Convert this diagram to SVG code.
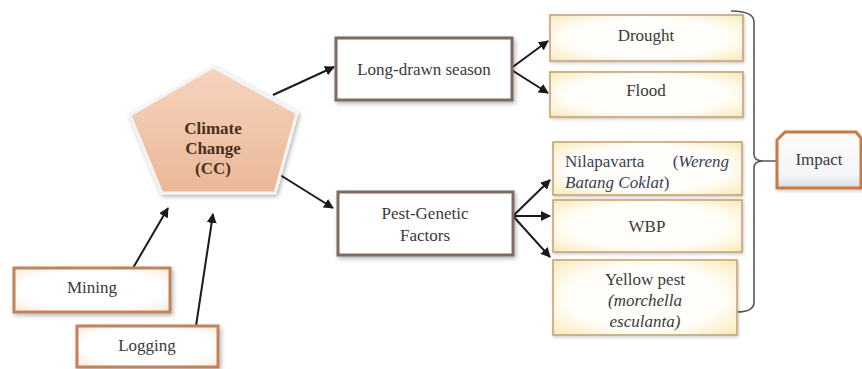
<svg xmlns="http://www.w3.org/2000/svg" width="862" height="369" viewBox="0 0 862 369" font-family="'Liberation Serif', 'DejaVu Serif', serif">
<style>
  text { font-family: 'Liberation Serif', 'DejaVu Serif', serif; font-size: 17px; fill: #3a3a3a; }
  .c { text-anchor: middle; }
  .it { font-style: italic; }
  .conn { stroke: #1a1a1a; stroke-width: 2; fill: none; }
  .boxA { fill: #ffffff; stroke: #7e6b5f; stroke-width: 3; filter: url(#sh); }
  .boxB { fill: url(#cream); stroke: #c7a377; stroke-width: 1.6; filter: url(#sh2); }
  .boxC { fill: url(#pinkish); stroke: #c0835c; stroke-width: 3; filter: url(#sh); }
</style>
<defs>
  <marker id="ah" viewBox="0 0 10 10" refX="9" refY="5" markerWidth="5" markerHeight="5" orient="auto" markerUnits="strokeWidth">
    <path d="M0,0 L10,5 L0,10 z" fill="#1a1a1a"/>
  </marker>
  <linearGradient id="peach" x1="0" y1="0" x2="0" y2="1">
    <stop offset="0" stop-color="#f6d4be"/>
    <stop offset="1" stop-color="#ebb797"/>
  </linearGradient>
  <radialGradient id="cream" cx="0.5" cy="0.5" r="0.75">
    <stop offset="0.55" stop-color="#fffefa"/>
    <stop offset="1" stop-color="#f9e7b0"/>
  </radialGradient>
  <radialGradient id="pinkish" cx="0.5" cy="0.5" r="0.75">
    <stop offset="0.6" stop-color="#ffffff"/>
    <stop offset="1" stop-color="#fbe4d6"/>
  </radialGradient>
  <linearGradient id="imp" x1="0" y1="0" x2="0" y2="1">
    <stop offset="0" stop-color="#fffaf5"/>
    <stop offset="0.75" stop-color="#f4f6fa"/>
    <stop offset="1" stop-color="#d9dde3"/>
  </linearGradient>
  <filter id="sh" x="-10%" y="-20%" width="125%" height="150%">
    <feDropShadow dx="1.5" dy="2" stdDeviation="2" flood-color="#000" flood-opacity="0.3"/>
  </filter>
  <filter id="sh2" x="-10%" y="-20%" width="125%" height="150%">
    <feDropShadow dx="1" dy="1.5" stdDeviation="1.5" flood-color="#000" flood-opacity="0.2"/>
  </filter>
</defs>

<g id="connectors">
  <line class="conn" x1="133" y1="268" x2="168" y2="208" marker-end="url(#ah)"/>
  <line class="conn" x1="196" y1="326" x2="213" y2="214" marker-end="url(#ah)"/>
  <line class="conn" x1="273" y1="95" x2="334" y2="67" marker-end="url(#ah)"/>
  <line class="conn" x1="277" y1="173" x2="333" y2="208" marker-end="url(#ah)"/>
  <line class="conn" x1="510" y1="69" x2="548" y2="41" marker-end="url(#ah)"/>
  <line class="conn" x1="510" y1="69" x2="548" y2="93" marker-end="url(#ah)"/>
  <line class="conn" x1="513" y1="216" x2="550" y2="180" marker-end="url(#ah)"/>
  <line class="conn" x1="513" y1="216" x2="550" y2="216" marker-end="url(#ah)"/>
  <line class="conn" x1="513" y1="216" x2="550" y2="257" marker-end="url(#ah)"/>
  <path d="M731,11 Q754,11 754,22 L754,154 Q754,161 763,161 L777,161 M763,161 Q754,161 754,168 L754,302 Q754,312 737,312" fill="none" stroke="#555" stroke-width="1.6"/>
</g>

<g id="cc">
  <polygon points="213,67 297,113 275,193 162,193 130,115" fill="url(#peach)" stroke="#f4f4f4" stroke-width="3" filter="url(#sh)"/>
  <text class="c" x="213" y="134" font-weight="bold" style="fill:#4a3020">Climate</text>
  <text class="c" x="213" y="154" font-weight="bold" style="fill:#4a3020">Change</text>
  <text class="c" x="213" y="174" font-weight="bold" style="fill:#4a3020">(CC)</text>
</g>

<g id="mining">
  <rect class="boxC" x="14" y="268" width="156" height="44"/>
  <text class="c" x="92" y="293">Mining</text>
</g>

<g id="logging">
  <rect class="boxC" x="77" y="326" width="141" height="41"/>
  <text class="c" x="147" y="351">Logging</text>
</g>

<g id="longdrawn">
  <rect class="boxA" x="336" y="38" width="176" height="62"/>
  <text class="c" x="424" y="75">Long-drawn season</text>
</g>

<g id="pestgenetic">
  <rect class="boxA" x="338" y="192" width="175" height="63"/>
  <text class="c" x="425" y="219">Pest-Genetic</text>
  <text class="c" x="425" y="241">Factors</text>
</g>

<g id="drought">
  <rect class="boxB" x="550" y="15" width="193" height="46"/>
  <text class="c" x="646" y="41">Drought</text>
</g>

<g id="flood">
  <rect class="boxB" x="550" y="72" width="193" height="45"/>
  <text class="c" x="646" y="96">Flood</text>
</g>

<g id="nilapavarta">
  <rect class="boxB" x="553" y="142" width="189" height="53"/>
  <text x="565" y="167" style="fill:#3a3f55">Nilapavarta</text>
  <text x="729" y="167" text-anchor="end" style="fill:#3a3f55">(<tspan class="it">Wereng</tspan></text>
  <text x="565" y="188" style="fill:#3a3f55"><tspan class="it">Batang Coklat</tspan>)</text>
</g>

<g id="wbp">
  <rect class="boxB" x="553" y="200" width="189" height="52"/>
  <text class="c" x="647" y="232">WBP</text>
</g>

<g id="yellowpest">
  <rect class="boxB" x="553" y="260" width="184" height="75"/>
  <text class="c" x="645" y="285">Yellow pest</text>
  <text class="c it" x="645" y="306">(morchella</text>
  <text class="c it" x="645" y="327">esculanta)</text>
</g>

<g id="impact">
  <path d="M785,132 L856,132 L861,138 L861,188 L777,188 L777,140 Z" fill="url(#imp)" stroke="#c77a45" stroke-width="3" filter="url(#sh2)"/>
  <text class="c" x="819" y="165">Impact</text>
</g>
</svg>
